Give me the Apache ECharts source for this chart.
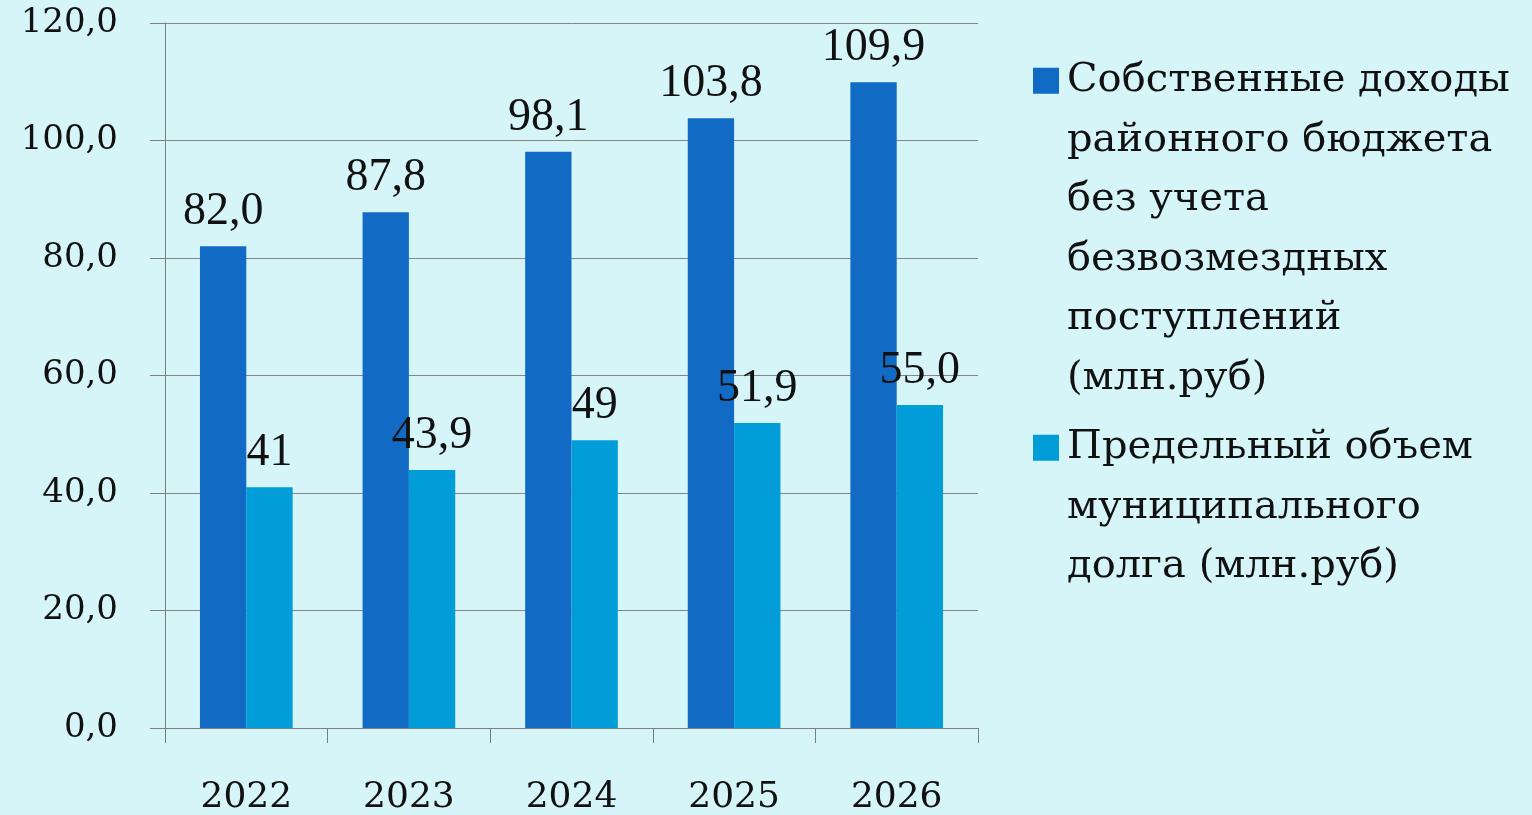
<!DOCTYPE html>
<html><head><meta charset="utf-8">
<script src="https://cdn.jsdelivr.net/npm/echarts@6/dist/echarts.min.js"></script>
<style>html,body{margin:0;padding:0;background:#D6F5F9;}#c{width:1532px;height:815px;}</style>
</head><body><div id="c"></div>
<script>
const categories = ['2022','2023','2024','2025','2026'];
const ownIncome = [82.0, 87.8, 98.1, 103.8, 109.9];
const ownIncomeLabels = ['82,0','87,8','98,1','103,8','109,9'];
const debtLimit = [41, 43.9, 49, 51.9, 55.0];
const debtLimitLabels = ['41','43,9','49','51,9','55,0'];
const seriesNames = ['Собственные доходы\nрайонного бюджета\nбез учета\nбезвозмездных\nпоступлений\n(млн.руб)', 'Предельный объем\nмуниципального\nдолга (млн.руб)'];
const yTicks = {min: 0, max: 120, interval: 20};

const LH = 59.5;
function iconPath(lines) {
  const h = lines * LH;
  const c = LH / 2;
  return 'path://M0,0L0.01,0Z M0,' + (c - 13) + 'L26,' + (c - 13) + 'L26,' + (c + 13) + 'L0,' + (c + 13) + 'Z M0,' + h + 'L0.01,' + h + 'Z';
}
const legendText = {fontFamily: 'DejaVu Serif', fontSize: 40, color: '#111', lineHeight: LH, padding: [0,0,0,3]};

const chart = echarts.init(document.getElementById('c'));
chart.setOption({
  backgroundColor: '#D6F5F9',
  animation: false,
  grid: {left: 165, right: 554, top: 23, bottom: 87, containLabel: false, outerBoundsMode: 'none'},
  legend: [
    {data: [seriesNames[0]], left: 1028, top: 46, itemWidth: 26, itemHeight: 6 * LH, icon: iconPath(6), textStyle: legendText, selectedMode: false},
    {data: [seriesNames[1]], left: 1028, top: 413, itemWidth: 26, itemHeight: 3 * LH, icon: iconPath(3), textStyle: legendText, selectedMode: false}
  ],
  xAxis: {
    type: 'category', data: categories,
    axisLine: {lineStyle: {color: '#7f7f7f', width: 1}},
    axisTick: {show: true, length: 15, lineStyle: {color: '#7f7f7f', width: 1}},
    axisLabel: {margin: 52, fontFamily: 'DejaVu Serif', fontSize: 36, color: '#111'}
  },
  yAxis: {
    type: 'value', min: yTicks.min, max: yTicks.max, interval: yTicks.interval,
    axisLine: {show: true, lineStyle: {color: '#7f7f7f', width: 1}},
    axisTick: {show: true, length: 15, lineStyle: {color: '#7f7f7f'}},
    splitLine: {lineStyle: {color: '#858585', width: 1}},
    axisLabel: {margin: 47, fontFamily: 'DejaVu Serif', fontSize: 34, color: '#111',
      formatter: v => v.toFixed(1).replace('.', ',')}
  },
  series: [
    {name: seriesNames[0], type: 'bar', data: ownIncome, barGap: '0%', barCategoryGap: '43%',
      itemStyle: {color: '#116AC4'},
      label: {show: true, position: 'top', distance: 11, fontFamily: 'Liberation Serif', fontSize: 46, color: '#111',
        formatter: p => ownIncomeLabels[p.dataIndex]}},
    {name: seriesNames[1], type: 'bar', data: debtLimit, barGap: '0%', barCategoryGap: '43%',
      itemStyle: {color: '#009DD8'},
      label: {show: true, position: 'top', distance: 11, fontFamily: 'Liberation Serif', fontSize: 46, color: '#111',
        formatter: p => debtLimitLabels[p.dataIndex]}}
  ]
});
</script></body></html>
